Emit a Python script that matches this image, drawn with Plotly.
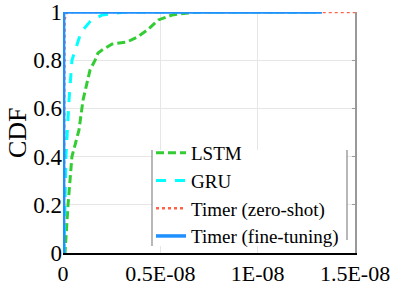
import numpy as np
import plotly.graph_objects as go

# x values in units of 1e-8
lstm_x = [0.0, 0.0103, 0.0258, 0.046, 0.082, 0.103, 0.139, 0.165, 0.18, 0.201, 0.253, 0.33, 0.381, 0.433, 0.49, 0.562, 0.644, 0.706, 1.30]
lstm_y = [0.0, 0.0, 0.2, 0.4, 0.51, 0.635, 0.76, 0.80, 0.83, 0.842, 0.867, 0.876, 0.896, 0.925, 0.967, 0.988, 0.996, 1.0, 1.0]

gru_x = [0.0, 0.005, 0.0103, 0.015, 0.031, 0.046, 0.093, 0.139, 0.201, 0.32, 1.30]
gru_y = [0.0, 0.0, 0.2, 0.4, 0.635, 0.8, 0.917, 0.96, 0.988, 1.0, 1.0]

zs_x = [0.0, 0.004, 0.008, 0.02, 1.5]
zs_y = [0.0, 0.0, 0.97, 1.0, 1.0]

ft_x = [0.0, 0.003, 0.003, 1.33]
ft_y = [0.0, 0.0, 1.0, 1.0]

x_ticks = [0.0, 0.5, 1.0, 1.5]
x_tick_labels = ["0", "0.5E-08", "1E-08", "1.5E-08"]
y_ticks = [0, 0.2, 0.4, 0.6, 0.8, 1.0]
y_tick_labels = ["0", "0.2", "0.4", "0.6", "0.8", "1"]

scale = 1e-8
FONT = "Liberation Serif"

fig = go.Figure()
fig.add_trace(go.Scatter(x=np.array(lstm_x) * scale, y=lstm_y, mode="lines", name="LSTM",
                         line=dict(color="#33cc33", width=3, dash="8px,4px")))
fig.add_trace(go.Scatter(x=np.array(gru_x) * scale, y=gru_y, mode="lines", name="GRU",
                         line=dict(color="#00ffff", width=3, dash="10px,9px")))
fig.add_trace(go.Scatter(x=np.array(zs_x) * scale, y=zs_y, mode="lines", name="Timer (zero-shot)",
                         line=dict(color="#ff6347", width=2.5, dash="3px,3px")))
fig.add_trace(go.Scatter(x=np.array(ft_x) * scale, y=ft_y, mode="lines", name="Timer (fine-tuning)",
                         line=dict(color="#1e90ff", width=3.5)))

L, R, T, B = 63, 40, 12, 33
W, H = 395, 286
pw, ph = W - L - R, H - T - B


def px_x(p):
    return (p - L) / pw


def px_y(p):
    return (H - B - p) / ph


fig.update_layout(
    width=W, height=H,
    margin=dict(l=L, r=R, t=T, b=B, autoexpand=False),
    paper_bgcolor="white", plot_bgcolor="white",
    font=dict(family=FONT, size=20, color="black"),
    showlegend=True,
    legend=dict(x=px_x(344), xanchor="right", y=px_y(134), yanchor="top",
                bgcolor="rgba(0,0,0,0)", borderwidth=0, font=dict(size=19, family=FONT),
                tracegroupgap=0, itemwidth=30),
    xaxis=dict(range=[0, 1.5 * scale], tickvals=[v * scale for v in x_ticks], ticktext=x_tick_labels,
               showgrid=True, gridcolor="#e6e6e6", gridwidth=1, zeroline=False, automargin=False,
               showline=True, linecolor="black", linewidth=1.5, ticks="", ticklen=0,
               ticklabeloverflow="allow", tickfont=dict(size=22, family=FONT)),
    yaxis=dict(range=[0, 1.0], tickvals=y_ticks, ticktext=y_tick_labels, automargin=False,
               showgrid=True, gridcolor="#e6e6e6", gridwidth=1, zeroline=False,
               showline=False, ticks="", ticklen=0, ticklabeloverflow="allow",
               tickfont=dict(size=23, family=FONT)),
    yaxis2=dict(range=[0, 1.0], overlaying="y", side="right", tickvals=y_ticks, showticklabels=False,
                showgrid=False, zeroline=False, showline=True, linecolor="#999999", linewidth=1.5,
                ticks="inside", ticklen=3, tickcolor="#999999", automargin=False),
    annotations=[dict(text="CDF", xref="paper", yref="paper", x=px_x(17), y=px_y(133),
                      showarrow=False, textangle=-90, font=dict(size=26, family=FONT),
                      xanchor="center", yanchor="middle")],
)
# dummy trace to activate right axis
fig.add_trace(go.Scatter(x=[None], y=[None], yaxis="y2", showlegend=False, hoverinfo="skip"))

# legend background (white box over the grid) and side borders
fig.add_shape(type="rect", xref="paper", yref="paper",
              x0=px_x(152), x1=px_x(347), y0=px_y(150), y1=px_y(246),
              fillcolor="white", line=dict(width=0), layer="above")
for xp, ybot in ((152, 246), (347, 240)):
    fig.add_shape(type="line", xref="paper", yref="paper",
                  x0=px_x(xp), x1=px_x(xp), y0=px_y(150), y1=px_y(ybot),
                  line=dict(color="#888888", width=1.2), layer="above")

fig.write_html("out.html", config={"displayModeBar": False},
               post_script="document.body.style.margin='0px';")
